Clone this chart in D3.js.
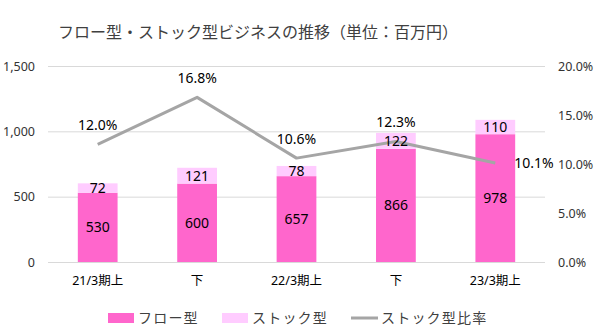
<!DOCTYPE html>
<html>
<head>
<meta charset="utf-8">
<script src="https://cdn.jsdelivr.net/npm/d3@7"></script>
<style>
  html, body { margin: 0; padding: 0; background: #fff; }
  svg { display: block; }
  text { font-family: "Noto Sans", "Noto Sans CJK JP", sans-serif; }
  .jp { font-family: "Noto Sans CJK JP", sans-serif; }
</style>
</head>
<body>
<svg id="chart" width="603" height="333"></svg>
<script>
// Half-year periods
const categories = ["21/3期上", "下", "22/3期上", "下", "23/3期上"];
// Revenue by business type (million yen)
const flowValues = [530, 600, 657, 866, 978];
const stockValues = [72, 121, 78, 122, 110];
// Stock share (%)
const stockRatio = [12.0, 16.8, 10.6, 12.3, 10.1];
const leftTicks = [0, 500, 1000, 1500];
const rightTicks = [0, 5, 10, 15, 20];

const colors = { flow: "#FF66CC", stock: "#FFCCFF", ratio: "#A5A5A5", grid: "#D9D9D9" };

const svg = d3.select("#chart");
const plot = { left: 48, right: 545, top: 66, bottom: 262 };

const x = d3.scaleBand().domain(d3.range(categories.length))
  .range([plot.left, plot.right]).paddingInner(0.6).paddingOuter(0.3);
const yL = d3.scaleLinear().domain([0, 1500]).range([plot.bottom, plot.top]);
const yR = d3.scaleLinear().domain([0, 20]).range([plot.bottom, plot.top]);

// Title
svg.append("text").attr("class", "jp")
  .attr("x", 258).attr("y", 38).attr("text-anchor", "middle")
  .attr("font-size", 16).attr("fill", "#404040")
  .text("フロー型・ストック型ビジネスの推移（単位：百万円）");

// Gridlines
svg.append("g").selectAll("line").data(leftTicks).join("line")
  .attr("x1", plot.left).attr("x2", plot.right)
  .attr("y1", d => yL(d) + 0.5).attr("y2", d => yL(d) + 0.5)
  .attr("stroke", colors.grid).attr("stroke-width", 1);

// Left axis
const axL = svg.append("g").attr("transform", `translate(${plot.left - 13},0)`)
  .call(d3.axisLeft(yL).tickValues(leftTicks).tickFormat(d3.format(",")).tickSize(0).tickPadding(0));
axL.select(".domain").remove();
axL.selectAll("text").attr("font-size", 12.5).attr("fill", "#333")
  .style("font-family", "'Noto Sans', sans-serif");

// Right axis
const axR = svg.append("g").attr("transform", `translate(${plot.right + 13},0)`)
  .call(d3.axisRight(yR).tickValues(rightTicks).tickFormat(d => d3.format(".1f")(d) + "%").tickSize(0).tickPadding(0));
axR.select(".domain").remove();
axR.selectAll("text").attr("font-size", 12.5).attr("fill", "#333")
  .style("font-family", "'Noto Sans', sans-serif");

// Category axis
const axX = svg.append("g").attr("transform", `translate(0,${plot.bottom})`)
  .call(d3.axisBottom(x).tickFormat(i => categories[i]).tickSize(0).tickPadding(14));
axX.select(".domain").remove();
axX.selectAll("text").attr("font-size", 12.5).attr("fill", "#000")
  .style("font-family", "'Noto Sans', 'Noto Sans CJK JP', sans-serif");

// Stacked bars
const rows = categories.map((c, i) => ({ i, flow: flowValues[i], stock: stockValues[i] }));
const stack = d3.stack().keys(["flow", "stock"])(rows);
const barG = svg.append("g");
stack.forEach(layer => {
  barG.append("g").attr("fill", colors[layer.key])
    .selectAll("rect").data(layer).join("rect")
    .attr("x", d => x(d.data.i)).attr("width", x.bandwidth())
    .attr("y", d => yL(d[1])).attr("height", d => yL(d[0]) - yL(d[1]));
});

// Ratio line
const line = d3.line().x((d, i) => x(i) + x.bandwidth() / 2).y(d => yR(d));
svg.append("path").datum(stockRatio).attr("d", line)
  .attr("fill", "none").attr("stroke", colors.ratio).attr("stroke-width", 3)
  .attr("stroke-linejoin", "round");

// Bar value labels
stack.forEach(layer => {
  svg.append("g").selectAll("text").data(layer).join("text")
    .attr("x", d => x(d.data.i) + x.bandwidth() / 2)
    .attr("y", d => (yL(d[0]) + yL(d[1])) / 2)
    .attr("dy", "0.35em").attr("text-anchor", "middle")
    .attr("font-size", 14).attr("fill", "#000")
    .text(d => d.data[layer.key]);
});

// Ratio labels: above the point, except the last one to the right
svg.append("g").selectAll("text").data(stockRatio).join("text")
  .attr("x", (d, i) => i === stockRatio.length - 1 ? x(i) + x.bandwidth() / 2 + 19 : x(i) + x.bandwidth() / 2)
  .attr("y", (d, i) => i === stockRatio.length - 1 ? yR(d) : yR(d) - 19)
  .attr("dy", "0.35em")
  .attr("text-anchor", (d, i) => i === stockRatio.length - 1 ? "start" : "middle")
  .attr("font-size", 14).attr("fill", "#000")
  .text(d => d3.format(".1f")(d) + "%");

// Legend
const legendY = 318;
const legend = svg.append("g");
const items = [
  { label: "フロー型", type: "rect", color: colors.flow, x: 108 },
  { label: "ストック型", type: "rect", color: colors.stock, x: 222 },
  { label: "ストック型比率", type: "line", color: colors.ratio, x: 351 }
];
items.forEach(it => {
  if (it.type === "rect") {
    legend.append("rect").attr("x", it.x).attr("y", legendY - 5).attr("width", 26).attr("height", 10).attr("fill", it.color);
  } else {
    legend.append("line").attr("x1", it.x).attr("x2", it.x + 27).attr("y1", legendY).attr("y2", legendY)
      .attr("stroke", it.color).attr("stroke-width", 3);
  }
  legend.append("text").attr("class", "jp").attr("x", it.x + 30).attr("y", legendY).attr("dy", "0.35em")
    .attr("font-size", 14).attr("letter-spacing", 1.2).attr("fill", "#404040").text(it.label);
});
</script>
</body>
</html>
